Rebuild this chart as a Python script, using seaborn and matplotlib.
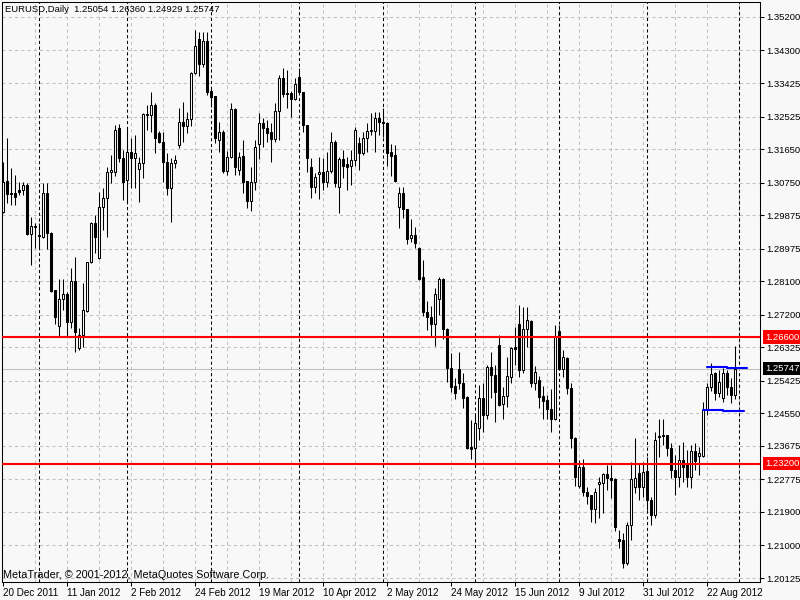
import numpy as np
import pandas as pd
import matplotlib
matplotlib.use("Agg")
import matplotlib.pyplot as plt
import matplotlib.transforms as mtransforms
import seaborn as sns

# ---------------- data (EURUSD daily, bar index 0 = 20 Dec 2011) ----------------
opens = [1.2996, 1.3079, 1.3047, 1.3047, 1.3055, 1.3055, 1.3069, 1.2937, 1.2959, 1.2933,
         1.2929, 1.3047, 1.2940, 1.2787, 1.2690, 1.2763, 1.2776, 1.2701, 1.2810, 1.2631,
         1.2666, 1.2730, 1.2862, 1.2967, 1.2873, 1.3009, 1.3033, 1.3104, 1.3104, 1.3221,
         1.3141, 1.3082, 1.3158, 1.3141, 1.3112, 1.3128, 1.3259, 1.3257, 1.3284, 1.3208,
         1.3185, 1.3131, 1.3060, 1.3128, 1.3176, 1.3238, 1.3227, 1.3246, 1.3370, 1.3461,
         1.3394, 1.3456, 1.3321, 1.3308, 1.3190, 1.3211, 1.3107, 1.3144, 1.3273, 1.3109,
         1.3147, 1.3079, 1.3025, 1.3077, 1.3179, 1.3235, 1.3221, 1.3211, 1.3192, 1.3267,
         1.3356, 1.3316, 1.3316, 1.3300, 1.3359, 1.3319, 1.3230, 1.3117, 1.3063, 1.3098,
         1.3104, 1.3077, 1.3107, 1.3185, 1.3063, 1.3139, 1.3125, 1.3120, 1.3136, 1.3182,
         1.3155, 1.3195, 1.3214, 1.3214, 1.3249, 1.3238, 1.3235, 1.3158, 1.3149, 1.3009,
         1.3047, 1.3004, 1.2927, 1.2935, 1.2900, 1.2821, 1.2728, 1.2714, 1.2695, 1.2763,
         1.2816, 1.2682, 1.2577, 1.2529, 1.2575, 1.2537, 1.2499, 1.2365, 1.2362, 1.2416,
         1.2497, 1.2451, 1.2580, 1.2559, 1.2639, 1.2480, 1.2502, 1.2553, 1.2633, 1.2695,
         1.2572, 1.2682, 1.2703, 1.2537, 1.2545, 1.2502, 1.2491, 1.2467, 1.2440, 1.2676,
         1.2575, 1.2603, 1.2524, 1.2389, 1.2260, 1.2311, 1.2244, 1.2236, 1.2198, 1.2265,
         1.2268, 1.2292, 1.2281, 1.2279, 1.2118, 1.2115, 1.2053, 1.2155, 1.2257, 1.2295,
         1.2257, 1.2300, 1.2222, 1.2182, 1.2394, 1.2394, 1.2397, 1.2362, 1.2303, 1.2284,
         1.2330, 1.2322, 1.2284, 1.2354, 1.2341, 1.2341, 1.2467, 1.2526, 1.2564, 1.2510,
         1.2497, 1.2564, 1.2526, 1.25054]

highs = [1.3131, 1.3195, 1.3115, 1.3096, 1.3077, 1.3077, 1.3074, 1.2982, 1.2967, 1.2967,
         1.3074, 1.3074, 1.2943, 1.2787, 1.2816, 1.2816, 1.2782, 1.2846, 1.2875, 1.2685,
         1.2805, 1.2862, 1.2970, 1.2988, 1.3050, 1.3060, 1.3117, 1.3149, 1.3230, 1.3232,
         1.3163, 1.3221, 1.3195, 1.3203, 1.3144, 1.3262, 1.3284, 1.3319, 1.3289, 1.3213,
         1.3211, 1.3155, 1.3141, 1.3149, 1.3275, 1.3292, 1.3265, 1.3373, 1.3485, 1.3480,
         1.3480, 1.3480, 1.3329, 1.3308, 1.3238, 1.3216, 1.3160, 1.3289, 1.3275, 1.3158,
         1.3190, 1.3079, 1.3117, 1.3190, 1.3262, 1.3249, 1.3243, 1.3235, 1.3289, 1.3365,
         1.3383, 1.3378, 1.3321, 1.3356, 1.3383, 1.3319, 1.3230, 1.3141, 1.3101, 1.3144,
         1.3141, 1.3158, 1.3211, 1.3190, 1.3144, 1.3163, 1.3144, 1.3163, 1.3224, 1.3198,
         1.3211, 1.3235, 1.3262, 1.3265, 1.3265, 1.3275, 1.3238, 1.3179, 1.3176, 1.3063,
         1.3063, 1.3004, 1.2978, 1.2956, 1.2902, 1.2867, 1.2757, 1.2744, 1.2792, 1.2821,
         1.2818, 1.2685, 1.2617, 1.2550, 1.2620, 1.2564, 1.2502, 1.2437, 1.2451, 1.2532,
         1.2537, 1.2585, 1.2620, 1.2585, 1.2666, 1.2526, 1.2606, 1.2633, 1.2687, 1.2747,
         1.2741, 1.2741, 1.2706, 1.2582, 1.2556, 1.2529, 1.2505, 1.2521, 1.2693, 1.2693,
         1.2625, 1.2606, 1.2537, 1.2391, 1.2330, 1.2332, 1.2257, 1.2236, 1.2254, 1.2284,
         1.2295, 1.2317, 1.2317, 1.2281, 1.2142, 1.2134, 1.2164, 1.2325, 1.2389, 1.2322,
         1.2325, 1.2338, 1.2230, 1.2405, 1.2440, 1.2440, 1.2397, 1.2375, 1.2343, 1.2370,
         1.2378, 1.2357, 1.2370, 1.2375, 1.2365, 1.2486, 1.2537, 1.2590, 1.2567, 1.2572,
         1.2577, 1.2572, 1.2550, 1.26360]

lows = [1.2993, 1.3020, 1.3015, 1.3015, 1.3042, 1.3042, 1.2935, 1.2854, 1.2900, 1.2900,
        1.2927, 1.2897, 1.2782, 1.2695, 1.2663, 1.2733, 1.2660, 1.2685, 1.2620, 1.2625,
        1.2633, 1.2728, 1.2859, 1.2886, 1.2870, 1.2948, 1.2929, 1.3074, 1.3093, 1.3131,
        1.3028, 1.3020, 1.3060, 1.3060, 1.3023, 1.3087, 1.3216, 1.3211, 1.3155, 1.3182,
        1.3077, 1.3042, 1.2970, 1.3115, 1.3168, 1.3185, 1.3208, 1.3227, 1.3367, 1.3362,
        1.3386, 1.3311, 1.3278, 1.3182, 1.3158, 1.3101, 1.3096, 1.3141, 1.3096, 1.3096,
        1.3047, 1.3007, 1.2998, 1.3055, 1.3139, 1.3171, 1.3185, 1.3131, 1.3185, 1.3190,
        1.3305, 1.3275, 1.3251, 1.3297, 1.3313, 1.3211, 1.3104, 1.3033, 1.3047, 1.3031,
        1.3055, 1.3063, 1.3101, 1.3063, 1.2993, 1.3087, 1.3055, 1.3069, 1.3120, 1.3109,
        1.3149, 1.3158, 1.3203, 1.3158, 1.3203, 1.3198, 1.3120, 1.3093, 1.3077, 1.2953,
        1.2980, 1.2910, 1.2916, 1.2900, 1.2813, 1.2717, 1.2679, 1.2663, 1.2636, 1.2719,
        1.2655, 1.2540, 1.2513, 1.2494, 1.2521, 1.2470, 1.2359, 1.2332, 1.2311, 1.2383,
        1.2405, 1.2440, 1.2497, 1.2432, 1.2475, 1.2440, 1.2472, 1.2537, 1.2585, 1.2553,
        1.2564, 1.2633, 1.2526, 1.2518, 1.2470, 1.2440, 1.2440, 1.2405, 1.2437, 1.2572,
        1.2553, 1.2507, 1.2362, 1.2260, 1.2254, 1.2233, 1.2211, 1.2164, 1.2161, 1.2174,
        1.2187, 1.2249, 1.2228, 1.2139, 1.2094, 1.2040, 1.2048, 1.2115, 1.2241, 1.2222,
        1.2230, 1.2195, 1.2155, 1.2174, 1.2338, 1.2370, 1.2341, 1.2281, 1.2236, 1.2257,
        1.2271, 1.2257, 1.2254, 1.2303, 1.2290, 1.2338, 1.2451, 1.2515, 1.2491, 1.2499,
        1.2486, 1.2505, 1.2483, 1.24929]

closes = [1.3077, 1.3044, 1.3044, 1.3036, 1.3050, 1.3069, 1.2937, 1.2959, 1.2956, 1.2931,
          1.3047, 1.2940, 1.2784, 1.2714, 1.2763, 1.2776, 1.2701, 1.2810, 1.2674, 1.2666,
          1.2733, 1.2862, 1.2967, 1.2929, 1.3009, 1.3033, 1.3104, 1.3109, 1.3216, 1.3141,
          1.3077, 1.3158, 1.3141, 1.3155, 1.3128, 1.3259, 1.3257, 1.3284, 1.3195, 1.3185,
          1.3131, 1.3060, 1.3128, 1.3136, 1.3238, 1.3227, 1.3246, 1.3370, 1.3442, 1.3394,
          1.3456, 1.3319, 1.3305, 1.3195, 1.3211, 1.3107, 1.3144, 1.3273, 1.3117, 1.3144,
          1.3077, 1.3025, 1.3077, 1.3171, 1.3235, 1.3221, 1.3208, 1.3192, 1.3267, 1.3356,
          1.3313, 1.3314, 1.3300, 1.3340, 1.3319, 1.3230, 1.3141, 1.3063, 1.3090, 1.3104,
          1.3077, 1.3107, 1.3185, 1.3074, 1.3139, 1.3120, 1.3117, 1.3136, 1.3216, 1.3155,
          1.3195, 1.3214, 1.3216, 1.3249, 1.3238, 1.3235, 1.3155, 1.3147, 1.3079, 1.3047,
          1.3004, 1.2924, 1.2935, 1.2913, 1.2816, 1.2728, 1.2714, 1.2695, 1.2776, 1.2816,
          1.2682, 1.2577, 1.2526, 1.2510, 1.2537, 1.2497, 1.2362, 1.2359, 1.2429, 1.2497,
          1.2451, 1.2580, 1.2559, 1.2513, 1.2478, 1.2502, 1.2556, 1.2631, 1.2628, 1.2572,
          1.2682, 1.2706, 1.2537, 1.2567, 1.2499, 1.2488, 1.2467, 1.2440, 1.2663, 1.2575,
          1.2606, 1.2524, 1.2389, 1.2284, 1.2311, 1.2244, 1.2233, 1.2198, 1.2244, 1.2271,
          1.2292, 1.2281, 1.2276, 1.2150, 1.2112, 1.2053, 1.2155, 1.2279, 1.2281, 1.2257,
          1.2298, 1.2222, 1.2182, 1.2383, 1.2391, 1.2397, 1.2362, 1.2303, 1.2284, 1.2330,
          1.2311, 1.2284, 1.2354, 1.2327, 1.2349, 1.2467, 1.2526, 1.2561, 1.2510, 1.2540,
          1.2564, 1.2526, 1.2505, 1.25747]

date_labels = ["20 Dec 2011", "11 Jan 2012", "2 Feb 2012", "24 Feb 2012", "19 Mar 2012",
               "10 Apr 2012", "2 May 2012", "24 May 2012", "15 Jun 2012", "9 Jul 2012",
               "31 Jul 2012", "22 Aug 2012"]
date_label_bars = [0, 16, 32, 48, 64, 80, 96, 112, 128, 144, 160, 176]
month_separator_bars = [9, 31, 52, 74, 95, 118, 139, 161, 184]
price_ticks = [1.35200, 1.34300, 1.33425, 1.32525, 1.31650, 1.30750, 1.29875, 1.28975,
               1.28100, 1.27200, 1.26325, 1.25425, 1.24550, 1.23675, 1.22775, 1.21900,
               1.21000, 1.20125]
resistance_level = 1.26600
support_level = 1.23200
bid_price = 1.25747
channel_upper_bars = [[176, 181], [181, 186]]
channel_upper_prices = [[1.2580, 1.2580], [1.2577, 1.2577]]
channel_lower_bars = [[175, 180], [180, 185.25]]
channel_lower_prices = [[1.2464, 1.2464], [1.2461, 1.2461]]
title_text = "EURUSD,Daily  1.25054 1.26360 1.24929 1.25747"
copyright_text = "MetaTrader, © 2001-2012, MetaQuotes Software Corp."

df = pd.DataFrame({"open": opens, "high": highs, "low": lows, "close": closes})
df["bar"] = np.arange(len(df))
df["bull"] = df["close"] >= df["open"]

# ---------------- styling ----------------
BG = "#F8F8F8"
FS = 6.8
sns.set_theme(style="white")
plt.rcParams["font.family"] = ["Liberation Sans", "DejaVu Sans"]

fig = plt.figure(figsize=(8, 6), dpi=100)
fig.patch.set_facecolor(BG)
ax = fig.add_axes([2 / 800, 18 / 600, 758 / 800, 580 / 600])
ax.set_facecolor(BG)
XLIM = (-0.25, 189.25)
YLIM = (1.20019, 1.35603)

# grid
for p in price_ticks:
    ax.axhline(p, color="#C0C0C0", lw=0.75, ls=(0, (3, 3)), zorder=0)
for b in range(8, 190, 8):
    ax.axvline(b, color="#C0C0C0", lw=0.75, ls=(0, (3, 3)), zorder=0)
for b in month_separator_bars:
    ax.axvline(b, color="black", lw=0.75, ls=(0, (3, 2.5)), zorder=1)

# bid line
ax.axhline(bid_price, color="#C0C0C0", lw=0.75, zorder=1)

# candles
ax.vlines(df["bar"], df["low"], df["high"], color="black", lw=0.75, zorder=2)
bull = df[df["bull"]]
bear = df[~df["bull"]]
ax.bar(bull["bar"], (bull["close"] - bull["open"]).clip(lower=0.00004), bottom=bull["open"],
       width=0.5, facecolor="white", edgecolor="black", linewidth=0.75, zorder=3)
ax.bar(bear["bar"], (bear["close"] - bear["open"]).clip(upper=-0.00004), bottom=bear["open"],
       width=0.5, facecolor="black", edgecolor="black", linewidth=0.75, zorder=3)

# horizontal levels
ax.axhline(resistance_level, color="red", lw=1.5, zorder=4)
ax.axhline(support_level, color="red", lw=1.5, zorder=4)

# blue channel segments
for xs, ys in zip(channel_upper_bars + channel_lower_bars,
                  channel_upper_prices + channel_lower_prices):
    sns.lineplot(x=xs, y=ys, ax=ax, color="#0000FF", lw=1.5, zorder=5,
                 estimator=None, legend=False)
ax.set_xlim(*XLIM)
ax.set_ylim(*YLIM)

# axes / ticks
for s in ax.spines.values():
    s.set_visible(True)
    s.set_color("black")
    s.set_linewidth(0.75)
ax.yaxis.tick_right()
ax.set_yticks(price_ticks)
ax.set_yticklabels([f"{p:.5f}" for p in price_ticks])
ax.set_xticks(date_label_bars)
ax.set_xticklabels(date_labels, ha="left")
ax.tick_params(axis="y", which="major", right=True, left=False, direction="out",
               length=3, width=0.75, pad=1.5, labelsize=FS, colors="black")
ax.tick_params(axis="x", which="major", bottom=True, direction="out",
               length=3, width=0.75, pad=1.5, labelsize=FS + 0.3, colors="black")
ax.set_xlabel("")
ax.set_ylabel("")

# price labels on the right scale
trans = mtransforms.blended_transform_factory(ax.transAxes, ax.transData)
for val, fc in [(resistance_level, "red"), (support_level, "red"), (bid_price, "black")]:
    ax.text(1 + 5 / 758, val, f"{val:.5f}", transform=trans, ha="left", va="center",
            fontsize=FS, color="white", clip_on=False, zorder=10,
            bbox=dict(boxstyle="square,pad=0.22", fc=fc, ec="none"))

fig.text(5 / 800, 1 - 10 / 600, title_text, ha="left", va="center", fontsize=FS,
         color="black")
ax.text(3 / 758, YLIM[0] + (582 - 575) * 0.0002687, copyright_text, ha="left", va="center",
        fontsize=7.8, color="black", zorder=6)

fig.savefig("out.png", dpi=100, facecolor=BG)
